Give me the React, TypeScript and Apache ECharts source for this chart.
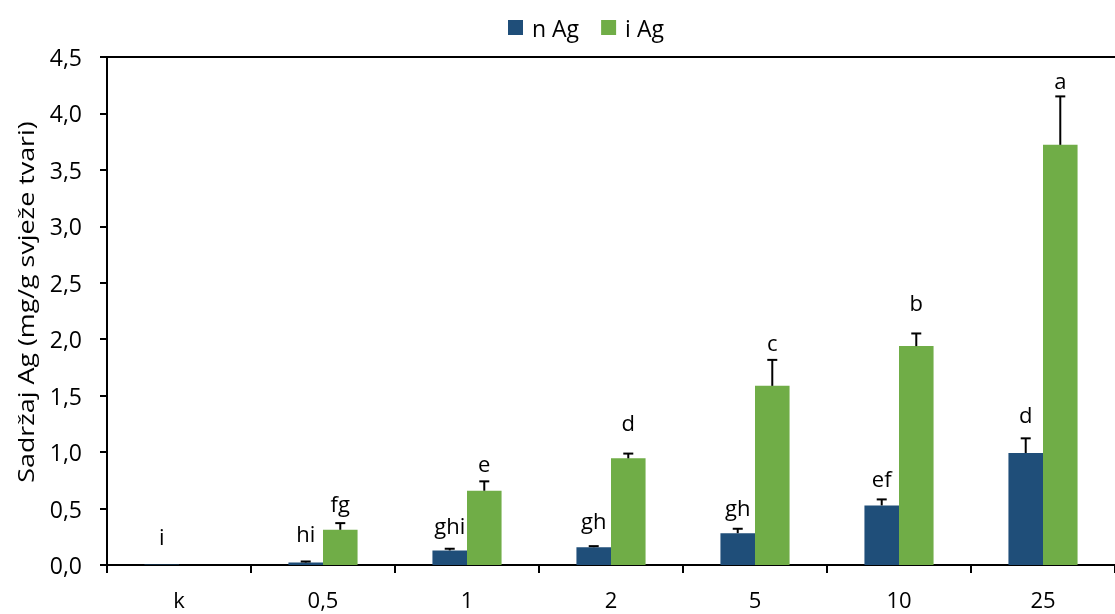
import React, { useEffect, useRef } from "react";
import * as echarts from "echarts";

const categories = ["k", "0,5", "1", "2", "5", "10", "25"];
const nAg = [0.005, 0.022, 0.129, 0.158, 0.282, 0.528, 0.992];
const nAgErr = [0, 0.009, 0.015, 0.009, 0.039, 0.053, 0.13];
const iAg = [0, 0.312, 0.658, 0.945, 1.587, 1.939, 3.722];
const iAgErr = [0, 0.059, 0.083, 0.042, 0.23, 0.112, 0.429];
const nLetters = ["i", "hi", "ghi", "gh", "gh", "ef", "d"];
const iLetters = ["", "fg", "e", "d", "c", "b", "a"];
const nLetterY = [0.253, 0.28, 0.35, 0.395, 0.513, 0.774, 1.342];
const iLetterY = [0, 0.546, 0.905, 1.267, 1.974, 2.33, 4.3];
const yTicks = [0, 0.5, 1, 1.5, 2, 2.5, 3, 3.5, 4, 4.5];
const yTitle = "Sadržaj Ag (mg/g svježe tvari)";

const FONT = "Open Sans";
const BAR_RATIO = 0.24;

export default function App() {
  const ref = useRef<HTMLDivElement>(null);
  useEffect(() => {
    if (!ref.current) return;
    const chart = echarts.init(ref.current, null, { renderer: "svg" });

    const errData: any[] = [];
    categories.forEach((_, i) => {
      errData.push([i, nAg[i], nAgErr[i], -1]);
      errData.push([i, iAg[i], iAgErr[i], 1]);
    });
    const lblData: any[] = [];
    categories.forEach((_, i) => {
      if (nLetters[i]) lblData.push([i, nLetterY[i], -1, nLetters[i]]);
      if (iLetters[i]) lblData.push([i, iLetterY[i], 1, iLetters[i]]);
    });

    chart.setOption({
      animation: false,
      textStyle: { fontFamily: FONT },
      legend: {
        data: ["n Ag", "i Ag"],
        top: 11,
        left: 503,
        itemWidth: 15,
        itemHeight: 15,
        itemGap: 22,
        icon: "rect",
        textStyle: { fontSize: 23, color: "#000", fontFamily: FONT, padding: [0, 0, 0, 4] },
      },
      graphic: [
        {
          type: "text",
          x: 25,
          y: 302,
          rotation: Math.PI / 2,
          scaleX: 1.22,
          style: {
            text: yTitle,
            fontSize: 22,
            fontFamily: FONT,
            fill: "#000",
            align: "center",
            verticalAlign: "middle",
          },
        },
      ],
      grid: { left: 107, right: -9, top: 57, bottom: 49, containLabel: false },
      xAxis: [
        {
          type: "category",
          data: categories,
          axisLine: { lineStyle: { color: "#000", width: 2 } },
          axisTick: { show: true, length: 8, lineStyle: { color: "#000", width: 2 } },
          axisLabel: { fontSize: 22, lineHeight: 22, color: "#000", margin: 23, fontFamily: FONT },
        },
        {
          type: "category",
          data: categories,
          position: "top",
          axisLine: { show: true, lineStyle: { color: "#000", width: 2 } },
          axisTick: { show: false },
          axisLabel: { show: false },
        },
      ],
      yAxis: {
        type: "value",
        min: 0,
        max: 4.5,
        interval: 0.5,
        axisLine: { show: true, lineStyle: { color: "#000", width: 2 } },
        axisTick: { show: true, length: 7, lineStyle: { color: "#000", width: 2 } },
        axisLabel: {
          fontSize: 23,
          color: "#000",
          margin: 25,
          fontFamily: FONT,
          formatter: (v: number) => {
            const t = yTicks.find((x) => Math.abs(x - v) < 1e-9);
            return (t ?? v).toFixed(1).replace(".", ",");
          },
        },
        splitLine: { show: false },
      },
      series: [
        {
          name: "n Ag",
          type: "bar",
          data: nAg,
          barWidth: BAR_RATIO * 100 + "%",
          barGap: "0%",
          itemStyle: { color: "#1F4E79" },
        },
        {
          name: "i Ag",
          type: "bar",
          data: iAg,
          barWidth: BAR_RATIO * 100 + "%",
          barGap: "0%",
          itemStyle: { color: "#70AD47" },
        },
        {
          name: "err",
          type: "custom",
          z: 5,
          data: errData,
          renderItem: (params: any, api: any) => {
            const idx = api.value(0);
            const v = api.value(1);
            const e = api.value(2);
            const side = api.value(3);
            if (!(e > 0)) return null;
            const bw = api.size([1, 0])[0] * BAR_RATIO;
            const p0 = api.coord([idx, v]);
            const p1 = api.coord([idx, v + e]);
            const x = p0[0] + (side * bw) / 2;
            const st = { stroke: "#000", lineWidth: 2 };
            return {
              type: "group",
              children: [
                { type: "line", shape: { x1: x, y1: p0[1], x2: x, y2: p1[1] }, style: st },
                { type: "line", shape: { x1: x - 5, y1: p1[1], x2: x + 5, y2: p1[1] }, style: st },
              ],
            };
          },
        },
        {
          name: "letters",
          type: "custom",
          z: 6,
          data: lblData,
          renderItem: (params: any, api: any) => {
            const idx = api.value(0);
            const y = api.value(1);
            const side = api.value(2);
            const txt = lblData[params.dataIndex][3];
            const bw = api.size([1, 0])[0] * BAR_RATIO;
            const p = api.coord([idx, y]);
            return {
              type: "text",
              x: p[0] + (side * bw) / 2,
              y: p[1],
              style: {
                text: txt,
                fill: "#000",
                fontSize: 22,
                fontFamily: FONT,
                align: "center",
                verticalAlign: "middle",
              },
            };
          },
        },
      ],
    });
    return () => chart.dispose();
  }, []);
  return (
    <div
      ref={ref}
      style={{ position: "fixed", left: 0, top: 0, width: 1115, height: 614 }}
    />
  );
}
